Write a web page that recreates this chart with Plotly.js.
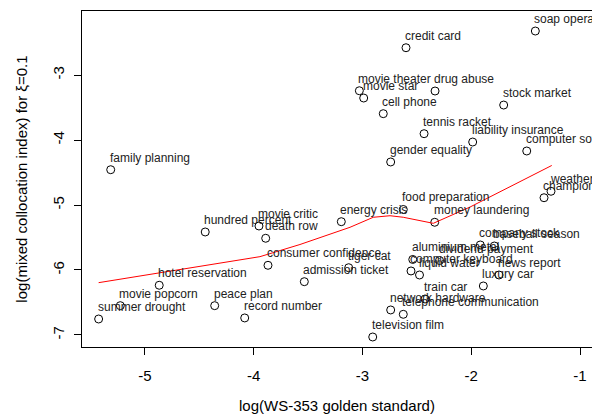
<!DOCTYPE html>
<html>
<head>
<meta charset="utf-8">
<script src="https://cdn.plot.ly/plotly-3.0.1.min.js"></script>
<style>html,body{margin:0;padding:0;background:#fff;}#chart{width:592px;height:419px;}</style>
</head>
<body>
<div id="chart"></div>
<script>
const pairs = ["soap opera","credit card","movie theater","drug abuse","movie star","cell phone","stock market","tennis racket","liability insurance","computer software","family planning","gender equality","weather forecast","championship","food preparation","energy crisis","money laundering","hundred percent","movie critic","death row","company stock","baseball season","aluminium metal","dividend payment","computer keyboard","liquid water","news report","consumer confidence","tiger cat","luxury car","admission ticket","hotel reservation","movie popcorn","summer drought","peace plan","record number","train car","network hardware","telephone communication","television film"];
const goldLog = [-1.411,-2.600,-3.029,-2.333,-2.989,-2.809,-1.702,-2.434,-1.987,-1.490,-5.315,-2.741,-1.267,-1.331,-2.625,-3.195,-2.336,-4.446,-3.952,-3.890,-1.917,-1.788,-2.538,-2.292,-2.554,-2.476,-1.745,-3.869,-3.127,-1.889,-3.535,-4.869,-5.227,-5.426,-4.359,-4.083,-2.425,-2.741,-2.625,-2.906];
const mciLog = [-2.323,-2.580,-3.242,-3.246,-3.354,-3.595,-3.462,-3.903,-4.031,-4.169,-4.457,-4.338,-4.789,-4.888,-5.069,-5.257,-5.266,-5.415,-5.323,-5.512,-5.615,-5.631,-5.838,-5.854,-6.015,-6.077,-6.077,-5.928,-5.965,-6.246,-6.180,-6.235,-6.549,-6.754,-6.549,-6.738,-6.446,-6.615,-6.682,-7.031];
const smoothX = [-5.426,-4.862,-4.448,-3.943,-3.575,-3.115,-2.901,-2.747,-2.625,-2.349,-2.011,-1.736,-1.460,-1.260];
const smoothY = [-6.195,-6.046,-5.938,-5.795,-5.608,-5.343,-5.189,-5.165,-5.189,-5.282,-5.031,-4.800,-4.562,-4.392];
const xTicks = [-5,-4,-3,-2,-1];
const yTicks = [-7,-6,-5,-4,-3];

const FONT = "Liberation Sans, Arial, Helvetica, sans-serif";

const traces = [
  {x: goldLog, y: mciLog, type: 'scatter', mode: 'markers',
   marker: {symbol: 'circle-open', size: 8, color: '#000', line: {width: 1, color: '#000'}},
   hoverinfo: 'skip', showlegend: false, cliponaxis: false},
  {x: smoothX, y: smoothY, type: 'scatter', mode: 'lines',
   line: {color: '#ff0000', width: 1}, hoverinfo: 'skip', showlegend: false}
];

const annotations = pairs.map((t, i) => ({
  x: goldLog[i], y: mciLog[i], xref: 'x', yref: 'y', text: t,
  showarrow: false, xanchor: 'left', yanchor: 'middle', yshift: 12, xshift: -1,
  borderpad: 0, borderwidth: 0,
  font: {family: FONT, size: 12, color: '#222'}
}));

const layout = {
  width: 592, height: 419,
  margin: {l: 82, r: 0, t: 11, b: 72},
  paper_bgcolor: '#fff', plot_bgcolor: '#fff',
  font: {family: FONT, color: '#000'},
  xaxis: {
    range: [-5.579, -0.890], tickvals: xTicks, ticktext: xTicks.map(String),
    showgrid: false, zeroline: false, showline: true, mirror: true,
    linecolor: '#000', linewidth: 1, ticks: 'outside', ticklen: 7, tickcolor: '#000',
    tickfont: {family: FONT, size: 15, color: '#000'}, ticklabelstandoff: 8,
    title: {text: 'log(WS-353 golden standard)', font: {family: FONT, size: 15, color: '#000'}, standoff: 17}
  },
  yaxis: {
    range: [-7.185, -2.015], tickvals: yTicks, ticktext: yTicks.map(String),
    showgrid: false, zeroline: false, showline: true, mirror: true,
    linecolor: '#000', linewidth: 1, ticks: 'outside', ticklen: 7, tickcolor: '#000',
    tickangle: -90,
    tickfont: {family: FONT, size: 15, color: '#000'}, ticklabelstandoff: 4,
    title: {text: 'log(mixed collocation index) for ξ=0.1', font: {family: FONT, size: 15, color: '#000'}, standoff: 18}
  },
  annotations: annotations
};

Plotly.newPlot('chart', traces, layout, {staticPlot: true, displayModeBar: false});
</script>
</body>
</html>
